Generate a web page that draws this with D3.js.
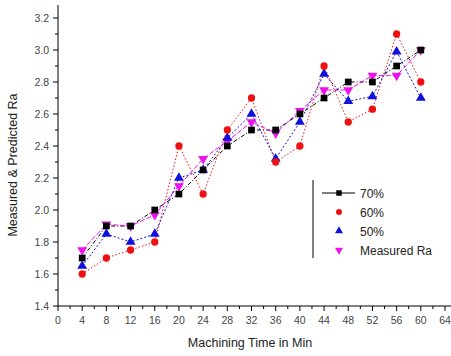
<!DOCTYPE html>
<html><head><meta charset="utf-8">
<script src="https://d3js.org/d3.v7.min.js"></script>
<style>body{margin:0;background:#fff}svg{display:block}text{font-family:Arial,"Liberation Sans",sans-serif}</style>
</head><body><svg id="c" width="451" height="356"></svg>
<script>
const times = [4,8,12,16,20,24,28,32,36,40,44,48,52,56,60];
const s70 = [1.70,1.90,1.90,2.00,2.10,2.25,2.40,2.50,2.50,2.60,2.70,2.80,2.80,2.90,3.00];
const s60 = [1.60,1.70,1.75,1.80,2.40,2.10,2.50,2.70,2.30,2.40,2.90,2.55,2.63,3.10,2.80];
const s50 = [1.65,1.85,1.80,1.85,2.20,2.25,2.45,2.60,2.32,2.55,2.85,2.68,2.71,2.99,2.70];
const sMeas = [1.75,1.91,1.90,1.97,2.15,2.32,2.43,2.55,2.48,2.62,2.75,2.75,2.84,2.84,3.00];
const xTicks = [0,4,8,12,16,20,24,28,32,36,40,44,48,52,56,60,64];
const yTicks = [1.4,1.6,1.8,2.0,2.2,2.4,2.6,2.8,3.0,3.2];
const names = ["70%","60%","50%","Measured Ra"];
const colors = ["#000000","#ee1111","#1010dd","#ee11ee"];

const svg = d3.select("#c");
const x = d3.scaleLinear().domain([0,64]).range([58,445]);
const y = d3.scaleLinear().domain([1.4,3.2]).range([306,18]);

const gx = svg.append("g").attr("transform","translate(0,306)");
gx.append("line").attr("x1",58).attr("x2",451).attr("stroke","#000");
gx.selectAll(".mt").data(d3.range(2,64,4)).enter().append("line")
  .attr("x1",d=>x(d)).attr("x2",d=>x(d)).attr("y1",0).attr("y2",3).attr("stroke","#000");
gx.selectAll(".t").data(xTicks).enter().append("line")
  .attr("x1",d=>x(d)).attr("x2",d=>x(d)).attr("y1",0).attr("y2",5).attr("stroke","#000");
gx.selectAll("text").data(xTicks).enter().append("text")
  .attr("x",d=>x(d)).attr("y",18).attr("text-anchor","middle").attr("font-size",10.5).attr("fill","#444").text(d=>d);

const gy = svg.append("g").attr("transform","translate(58,0)");
gy.append("line").attr("y1",5).attr("y2",306).attr("stroke","#000");
gy.selectAll(".mt").data(d3.range(1.5,3.3,0.2)).enter().append("line")
  .attr("y1",d=>y(d)).attr("y2",d=>y(d)).attr("x1",0).attr("x2",-3).attr("stroke","#000");
gy.selectAll(".t").data(yTicks).enter().append("line")
  .attr("y1",d=>y(d)).attr("y2",d=>y(d)).attr("x1",0).attr("x2",-5).attr("stroke","#000");
gy.selectAll("text").data(yTicks).enter().append("text")
  .attr("x",-9).attr("y",d=>y(d)+4).attr("text-anchor","end").attr("font-size",10.5).attr("fill","#444").text(d=>d.toFixed(1));

svg.append("text").attr("x",250).attr("y",347).attr("text-anchor","middle").attr("font-size",12.5).attr("fill","#222").text("Machining Time in Min");
svg.append("text").attr("transform","translate(17,165) rotate(-90)").attr("text-anchor","middle").attr("font-size",12.5).attr("fill","#222").text("Measured & Predicted Ra");

const series = [s70,s60,s50,sMeas];
const dashes = ["4,2,1,2","1.5,2","2,2","5,2"];
const line = d3.line().x((d,i)=>x(times[i])).y(d=>y(d));
series.forEach((s,k)=>{
  svg.append("path").datum(s).attr("d",line).attr("fill","none").attr("stroke",colors[k])
    .attr("stroke-width",1).attr("stroke-dasharray",dashes[k]);
});
const sym = [d3.symbolSquare,d3.symbolCircle,d3.symbolTriangle,d3.symbolTriangle];
function marker(g,k,px,py,sz){
  g.append("path").attr("d",d3.symbol().type(sym[k]).size(sz)())
    .attr("fill",colors[k]).attr("transform",`translate(${px},${py})${k===3?" rotate(180)":""}`);
}
const sizes = [45,42,42,42];
[3,2,1,0].forEach(k=>{
  series[k].forEach((v,i)=>marker(svg,k,x(times[i]),y(v),sizes[k]));
});

const lg = svg.append("g");
lg.append("line").attr("x1",313).attr("x2",313).attr("y1",180).attr("y2",258).attr("stroke","#000");
names.forEach((n,k)=>{
  const yy = 193 + k*19;
  if(k===0) lg.append("line").attr("x1",322).attr("x2",355).attr("y1",yy).attr("y2",yy).attr("stroke","#000");
  marker(lg,k,339,yy,k===0?30:28);
  lg.append("text").attr("x",360).attr("y",yy+4.5).attr("font-size",12).attr("fill","#222").text(n);
});
</script></body></html>
